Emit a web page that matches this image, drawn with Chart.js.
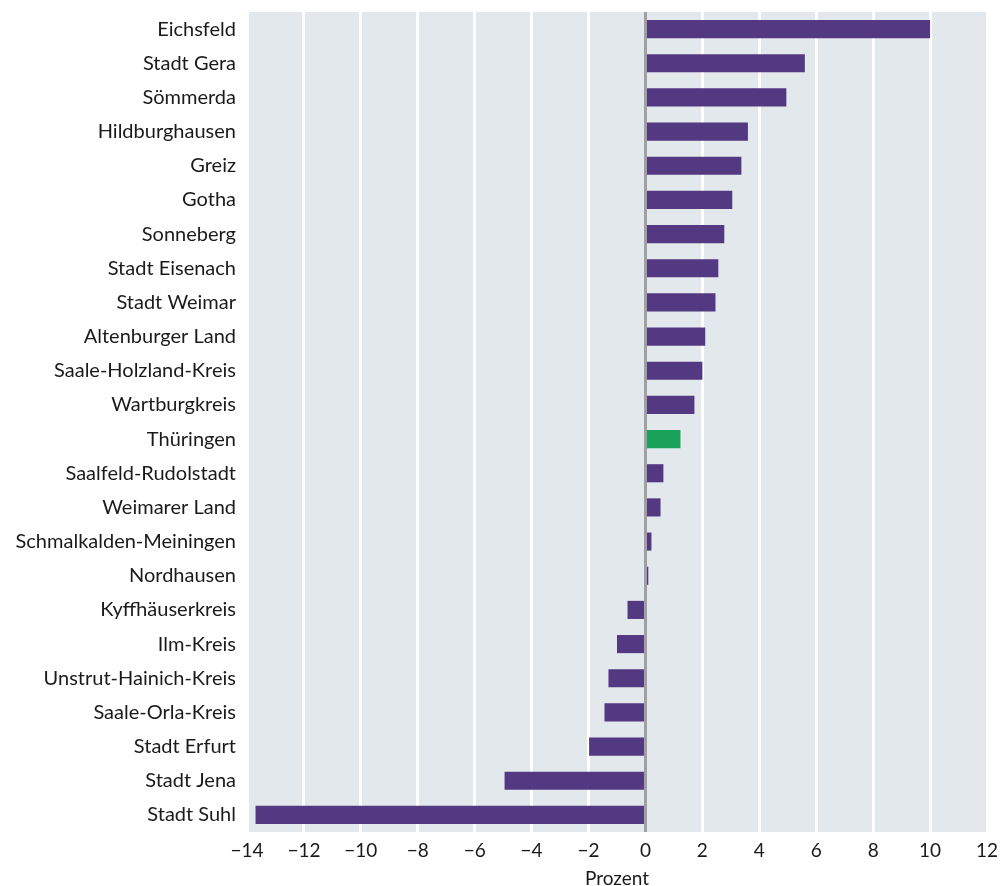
<!DOCTYPE html>
<html>
<head>
<meta charset="utf-8">
<script src="https://cdn.jsdelivr.net/npm/chart.js@4/dist/chart.umd.min.js"></script>
<style>
  html, body { margin: 0; padding: 0; background: #fff; }
  #wrap { width: 1002px; height: 886px; }
</style>
</head>
<body>
<div id="wrap"><canvas id="chart" width="1002" height="886"></canvas></div>
<script>
const regions = [
  "Eichsfeld", "Stadt Gera", "Sömmerda", "Hildburghausen", "Greiz", "Gotha",
  "Sonneberg", "Stadt Eisenach", "Stadt Weimar", "Altenburger Land",
  "Saale-Holzland-Kreis", "Wartburgkreis", "Thüringen", "Saalfeld-Rudolstadt",
  "Weimarer Land", "Schmalkalden-Meiningen", "Nordhausen", "Kyffhäuserkreis",
  "Ilm-Kreis", "Unstrut-Hainich-Kreis", "Saale-Orla-Kreis", "Stadt Erfurt",
  "Stadt Jena", "Stadt Suhl"
];
const changePercent = [
  10.0, 5.6, 4.95, 3.6, 3.37, 3.05,
  2.77, 2.56, 2.46, 2.1,
  2.0, 1.72, 1.23, 0.63,
  0.53, 0.21, 0.1, -0.63,
  -1.0, -1.3, -1.44, -1.98,
  -4.95, -13.7
];
const xMin = -14;
const xMax = 12;
const xStep = 2;

const purple = "#533882";
const green = "#1ba25a";
const barColors = regions.map((r) => (r === "Thüringen" ? green : purple));

const plotBackground = {
  id: "plotBackground",
  beforeDraw(chart) {
    const { ctx, chartArea } = chart;
    ctx.save();
    ctx.fillStyle = "#e3e8ed";
    ctx.fillRect(chartArea.left, chartArea.top, chartArea.right - chartArea.left, chartArea.bottom - chartArea.top);
    ctx.restore();
  }
};

const fontFamily = "Lato, 'Noto Sans', sans-serif";
const textColor = "#1a1a1a";

new Chart(document.getElementById("chart"), {
  type: "bar",
  data: {
    labels: regions,
    datasets: [
      {
        data: changePercent,
        backgroundColor: barColors,
        borderWidth: 0,
        categoryPercentage: 1,
        barPercentage: 0.53,
      },
    ],
  },
  options: {
    indexAxis: "y",
    responsive: false,
    animation: false,
    layout: { padding: { left: 0, right: 15, top: 12, bottom: 0 } },
    plugins: {
      legend: { display: false },
      tooltip: { enabled: false },
    },
    scales: {
      x: {
        min: xMin,
        max: xMax,
        border: { display: false },
        grid: {
          color: (c) => (c.tick && c.tick.value === 0 ? "#a0a0a0" : "#ffffff"),
          lineWidth: 3,
          drawTicks: false,
        },
        ticks: {
          stepSize: xStep,
          padding: 7,
          color: textColor,
          font: { family: fontFamily, size: 19 },
          callback: (v) => String(v).replace("-", "\u2212"),
        },
        title: {
          display: true,
          text: "Prozent",
          color: textColor,
          font: { family: fontFamily, size: 19 },
          padding: { top: 5, bottom: -4 },
        },
        afterFit(scale) {
          scale.height = 54;
          scale.paddingLeft = 0;
          scale.paddingRight = 0;
        },
      },
      y: {
        border: { display: false },
        grid: { display: false },
        ticks: {
          color: textColor,
          padding: 3,
          font: { family: fontFamily, size: 20 },
        },
        afterFit(scale) {
          scale.width = 247;
          scale.paddingTop = 0;
          scale.paddingBottom = 0;
        },
      },
    },
  },
  plugins: [plotBackground],
});
</script>
</body>
</html>
